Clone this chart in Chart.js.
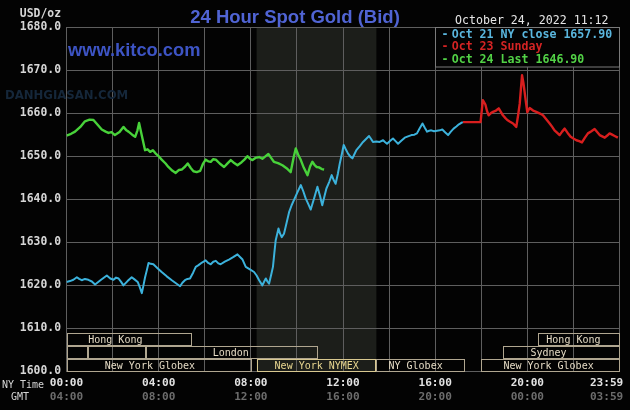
<!DOCTYPE html>
<html>
<head>
<meta charset="utf-8">
<title>24 Hour Spot Gold (Bid)</title>
<script src="https://cdn.jsdelivr.net/npm/chart.js@4.4.0/dist/chart.umd.min.js"></script>
<style>
html, body { margin: 0; padding: 0; background: #000; }
canvas { display: block; }
</style>
</head>
<body>
<canvas id="goldChart" width="630" height="410"></canvas>
<script>
// NY time in hours (0-24) and bid price
const tickHours = [0, 4, 8, 12, 16, 20, 23.44];
const nyTimeLabels = ['00:00', '04:00', '08:00', '12:00', '16:00', '20:00', '23:59'];
const gmtLabels = ['04:00', '08:00', '12:00', '16:00', '20:00', '00:00', '03:59'];

const oct21Hours = [0, 0.15, 0.3, 0.45, 0.55, 0.66, 0.8, 0.95, 1.1, 1.24, 1.5, 1.75, 1.9, 2.04, 2.15, 2.26, 2.37, 2.47, 2.65, 2.83, 2.95, 3.09, 3.18, 3.27, 3.34, 3.41, 3.49, 3.56, 3.66, 3.77, 3.95, 4.13, 4.35, 4.57, 4.75, 4.93, 5.03, 5.14, 5.25, 5.36, 5.5, 5.61, 5.73, 5.88, 6.04, 6.15, 6.26, 6.37, 6.48, 6.59, 6.69, 6.87, 7.05, 7.25, 7.42, 7.53, 7.64, 7.78, 7.96, 8.14, 8.25, 8.36, 8.5, 8.58, 8.65, 8.72, 8.79, 8.88, 8.96, 9.02, 9.08, 9.2, 9.27, 9.34, 9.44, 9.55, 9.66, 9.77, 9.87, 10.02, 10.17, 10.28, 10.38, 10.5, 10.6, 10.75, 10.89, 11.0, 11.1, 11.2, 11.28, 11.4, 11.51, 11.6, 11.68, 11.78, 11.86, 11.95, 12.03, 12.12, 12.22, 12.32, 12.41, 12.5, 12.58, 12.72, 12.87, 13.0, 13.13, 13.22, 13.3, 13.45, 13.59, 13.74, 13.82, 13.91, 14.04, 14.17, 14.28, 14.39, 14.53, 14.68, 14.82, 14.97, 15.1, 15.21, 15.33, 15.45, 15.55, 15.65, 15.74, 15.83, 15.95, 16.08, 16.2, 16.31, 16.44, 16.56, 16.68, 16.8, 16.92, 17.03, 17.12, 17.2];
const oct21Prices = [1620.8, 1621.0, 1621.3, 1621.9, 1621.5, 1621.2, 1621.5, 1621.3, 1620.9, 1620.2, 1621.3, 1622.3, 1621.6, 1621.3, 1621.8, 1621.6, 1620.8, 1620.0, 1621.0, 1621.9, 1621.4, 1620.8, 1619.6, 1618.2, 1620.0, 1621.9, 1623.6, 1625.2, 1625.0, 1624.9, 1624.0, 1623.1, 1622.1, 1621.2, 1620.5, 1619.8, 1620.6, 1621.2, 1621.5, 1621.6, 1623.0, 1624.3, 1624.7, 1625.3, 1625.8, 1625.2, 1624.9, 1625.5, 1625.7, 1625.1, 1624.9, 1625.5, 1626.0, 1626.6, 1627.2, 1626.6, 1626.0, 1624.3, 1623.7, 1623.1, 1622.3, 1621.2, 1620.0, 1620.9, 1621.6, 1620.9, 1620.4, 1622.4, 1624.3, 1627.5, 1630.5, 1633.2, 1632.0, 1631.2, 1632.0, 1634.5, 1637.0, 1638.6, 1639.8, 1641.6, 1643.3, 1641.8, 1640.2, 1638.8, 1637.6, 1640.3, 1642.9, 1640.8, 1638.6, 1640.8, 1642.5, 1644.0, 1645.6, 1644.4, 1643.6, 1646.0, 1648.3, 1650.5, 1652.6, 1651.6, 1650.6, 1649.9, 1649.5, 1650.5, 1651.4, 1652.3, 1653.3, 1654.0, 1654.7, 1654.0, 1653.3, 1653.4, 1653.3, 1653.7, 1653.3, 1652.9, 1653.5, 1654.1, 1653.5, 1652.9, 1653.6, 1654.3, 1654.6, 1654.9, 1655.0, 1655.3, 1656.5, 1657.6, 1656.6, 1655.7, 1655.9, 1656.0, 1655.8, 1655.9, 1656.0, 1656.2, 1655.5, 1654.9, 1655.7, 1656.4, 1656.9, 1657.4, 1657.7, 1657.9];

const oct23Hours = [17.2, 17.97, 18.07, 18.18, 18.25, 18.32, 18.42, 18.51, 18.64, 18.76, 18.85, 18.94, 19.04, 19.13, 19.25, 19.38, 19.45, 19.52, 19.6, 19.67, 19.72, 19.77, 19.83, 19.88, 19.94, 20.0, 20.1, 20.25, 20.39, 20.55, 20.68, 20.83, 20.97, 21.08, 21.18, 21.3, 21.4, 21.51, 21.62, 21.75, 21.88, 22.0, 22.13, 22.25, 22.37, 22.5, 22.63, 22.78, 22.92, 23.03, 23.14, 23.25, 23.36, 23.47, 23.57, 23.68, 23.79, 23.93];
const oct23Prices = [1657.9, 1657.9, 1663.0, 1662.0, 1660.5, 1659.5, 1660.0, 1660.3, 1660.6, 1661.1, 1660.3, 1659.5, 1658.9, 1658.4, 1658.0, 1657.6, 1657.2, 1656.8, 1659.5, 1662.2, 1665.5, 1668.8, 1667.0, 1665.0, 1662.5, 1660.2, 1661.2, 1660.6, 1660.3, 1659.9, 1659.5, 1658.5, 1657.6, 1656.8, 1656.0, 1655.4, 1654.9, 1655.7, 1656.4, 1655.4, 1654.5, 1654.1, 1653.7, 1653.5, 1653.2, 1654.3, 1655.3, 1655.8, 1656.3, 1655.6, 1654.9, 1654.6, 1654.3, 1654.8, 1655.3, 1655.0, 1654.7, 1654.3];

const oct24Hours = [0, 0.2, 0.37, 0.6, 0.8, 1.0, 1.17, 1.35, 1.53, 1.7, 1.82, 1.95, 2.1, 2.3, 2.47, 2.6, 2.69, 2.85, 2.98, 3.08, 3.15, 3.28, 3.41, 3.52, 3.63, 3.75, 3.87, 4.0, 4.13, 4.3, 4.42, 4.6, 4.74, 4.88, 5.0, 5.15, 5.26, 5.4, 5.51, 5.65, 5.8, 5.92, 6.04, 6.15, 6.26, 6.37, 6.48, 6.65, 6.84, 7.0, 7.13, 7.28, 7.42, 7.6, 7.72, 7.85, 7.96, 8.07, 8.2, 8.36, 8.5, 8.62, 8.76, 8.88, 9.0, 9.18, 9.37, 9.55, 9.73, 9.85, 9.95, 10.05, 10.17, 10.3, 10.46, 10.57, 10.67, 10.76, 10.85, 10.96, 11.08, 11.18];
const oct24Prices = [1654.8, 1655.2, 1655.7, 1656.8, 1658.1, 1658.5, 1658.4, 1657.3, 1656.2, 1655.7, 1655.4, 1655.6, 1654.9, 1655.6, 1656.8, 1656.0, 1655.7, 1655.0, 1654.5, 1656.0, 1657.7, 1654.5, 1651.4, 1651.6, 1651.0, 1651.4, 1650.6, 1650.0, 1649.2, 1648.3, 1647.5, 1646.6, 1646.1, 1646.8, 1646.9, 1647.6, 1648.3, 1647.2, 1646.5, 1646.3, 1646.6, 1648.2, 1649.2, 1648.8, 1648.7, 1649.3, 1649.2, 1648.3, 1647.5, 1648.4, 1649.1, 1648.4, 1647.9, 1648.6, 1649.2, 1650.0, 1649.4, 1649.1, 1649.6, 1649.8, 1649.4, 1649.9, 1650.5, 1649.6, 1648.7, 1648.4, 1647.9, 1647.2, 1646.3, 1649.5, 1651.8, 1650.4, 1649.1, 1647.3, 1645.6, 1647.6, 1648.7, 1648.0, 1647.5, 1647.4, 1647.0, 1646.9];

const legendLabels = ['Oct 21 NY close 1657.90', 'Oct 23 Sunday', 'Oct 24 Last 1646.90'];

// trading sessions shown at the bottom of the plot
const sessionNames = ['Hong Kong', 'Hong Kong', '', '', 'London', 'Sydney', 'New York Globex', 'New York NYMEX', 'NY Globex', 'New York Globex'];
const sessionStarts = [0, 20.46, 0, 0.94, 3.47, 18.93, 0, 8.25, 13.45, 18.0];
const sessionEnds = [5.45, 24, 0.94, 3.47, 10.92, 24, 8.03, 13.45, 17.3, 24];
const sessionRows = [0, 0, 1, 1, 1, 1, 2, 2, 2, 2];
const sessionLabelAt = [2.12, 22.0, 0, 0, 7.13, 20.92, 3.62, 10.86, 15.15, 20.92];
const rowTops = [1609, 1606, 1603];
const nymexStart = 8.25;
const nymexEnd = 13.45;

const mono = '"DejaVu Sans Mono", monospace';
const gridColor = '#5e5e5e';

function toPoints(hours, prices) {
    return hours.map((h, i) => ({ x: h, y: prices[i] }));
}

const kitcoDecor = {
    id: 'kitcoDecor',
    beforeDraw(chart) {
        const ctx = chart.ctx;
        const x = chart.scales.x;
        const area = chart.chartArea;
        ctx.save();
        ctx.fillStyle = '#030303';
        ctx.fillRect(0, 0, chart.width, chart.height);
        // NYMEX hours shading
        const x0 = x.getPixelForValue(nymexStart);
        const x1 = x.getPixelForValue(nymexEnd);
        ctx.fillStyle = '#1c1e1a';
        ctx.fillRect(x0, area.top, x1 - x0, area.bottom - area.top);
        ctx.restore();
    },
    beforeDatasetsDraw(chart) {
        const ctx = chart.ctx;
        const x = chart.scales.x;
        const y = chart.scales.y;
        ctx.save();
        ctx.lineWidth = 1;
        ctx.font = '10px ' + mono;
        ctx.textAlign = 'center';
        ctx.textBaseline = 'middle';
        sessionNames.forEach((name, i) => {
            const left = Math.round(x.getPixelForValue(sessionStarts[i])) + 0.5;
            const right = Math.round(x.getPixelForValue(sessionEnds[i])) - 0.5;
            const top = Math.round(y.getPixelForValue(rowTops[sessionRows[i]])) + 0.5;
            const bottom = Math.round(y.getPixelForValue(rowTops[sessionRows[i]] - 3)) - 0.5;
            const isNymex = name === 'New York NYMEX';
            ctx.strokeStyle = isNymex ? '#d8c890' : '#b0a690';
            ctx.strokeRect(left, top, right - left, bottom - top);
            if (name) {
                ctx.fillStyle = isNymex ? '#e8d690' : '#e4dac4';
                ctx.fillText(name, x.getPixelForValue(sessionLabelAt[i]), (top + bottom) / 2 + 1);
            }
        });
        // faint site watermark
        ctx.fillStyle = '#15273a';
        ctx.font = 'bold 13px "DejaVu Sans Condensed", sans-serif';
        ctx.textAlign = 'left';
        ctx.textBaseline = 'alphabetic';
        ctx.fillText('DANHGIASAN.COM', 5, 99);
        ctx.restore();
    },
    afterDraw(chart) {
        const ctx = chart.ctx;
        const area = chart.chartArea;
        ctx.save();
        ctx.textBaseline = 'alphabetic';

        ctx.fillStyle = '#5064d4';
        ctx.font = 'bold 18.5px "Liberation Sans", Arial, sans-serif';
        ctx.textAlign = 'center';
        ctx.fillText('24 Hour Spot Gold (Bid)', 295, 22.5);

        ctx.fillStyle = '#3d54c4';
        ctx.font = 'bold 18.3px "Liberation Sans", Arial, sans-serif';
        ctx.textAlign = 'left';
        ctx.fillText('www.kitco.com', 68, 55.5);

        ctx.fillStyle = '#e6e6e6';
        ctx.font = '11.6px ' + mono;
        ctx.fillText('October 24, 2022 11:12', 455, 24);

        ctx.fillStyle = '#d6d6d6';
        ctx.font = 'bold 11.4px ' + mono;
        ctx.textAlign = 'right';
        ctx.fillText('USD/oz', 61, 17);

        ctx.font = '10px ' + mono;
        ctx.textAlign = 'left';
        ctx.fillText('NY Time', 2, 387.5);
        ctx.fillText('GMT', 11, 400);

        // legend box in the top right corner
        const lx = 435.5;
        const ly = Math.round(area.top) + 0.5;
        const lw = Math.round(area.right) - 0.5 - lx;
        const lh = 39.5;
        ctx.fillStyle = '#030303';
        ctx.fillRect(lx, ly, lw, lh);
        ctx.strokeStyle = '#7a7a7a';
        ctx.lineWidth = 1;
        ctx.strokeRect(lx, ly, lw, lh);
        ctx.font = 'bold 11.6px ' + mono;
        chart.data.datasets.forEach((ds, i) => {
            const by = 37.7 + i * 12.5;
            ctx.fillStyle = ds.legendColor;
            ctx.fillText('-', 441.5, by);
            ctx.fillText(ds.label, 451.7, by);
        });
        ctx.restore();
    }
};

new Chart(document.getElementById('goldChart'), {
    type: 'line',
    data: {
        datasets: [
            {
                label: legendLabels[0],
                data: toPoints(oct21Hours, oct21Prices),
                borderColor: '#3cb2dc',
                legendColor: '#5ab6de',
                borderWidth: 2
            },
            {
                label: legendLabels[1],
                data: toPoints(oct23Hours, oct23Prices),
                borderColor: '#d81e1e',
                legendColor: '#d42424',
                borderWidth: 2.4
            },
            {
                label: legendLabels[2],
                data: toPoints(oct24Hours, oct24Prices),
                borderColor: '#48d23a',
                legendColor: '#52d246',
                borderWidth: 2.4
            }
        ]
    },
    options: {
        responsive: false,
        animation: false,
        devicePixelRatio: 1,
        elements: {
            point: { radius: 0 },
            line: { tension: 0, borderJoinStyle: 'round', fill: false }
        },
        layout: { padding: { top: 27, right: 10.5, bottom: 5.5, left: 0 } },
        plugins: {
            legend: { display: false },
            tooltip: { enabled: false }
        },
        scales: {
            x: {
                type: 'linear',
                position: 'bottom',
                min: 0,
                max: 24,
                weight: 0,
                ticks: { display: false, stepSize: 2 },
                grid: { color: gridColor, drawTicks: false },
                border: { color: gridColor },
                afterFit: s => { s.height = 0; }
            },
            nyTime: {
                type: 'linear',
                position: 'bottom',
                min: 0,
                max: 24,
                weight: 1,
                grid: { display: false, drawTicks: false },
                border: { display: false },
                afterBuildTicks: s => { s.ticks = tickHours.map(v => ({ value: v })); },
                ticks: {
                    autoSkip: false,
                    maxRotation: 0,
                    padding: 6,
                    color: '#e2e2e2',
                    font: { family: mono, size: 11.1, weight: 'bold', lineHeight: 1 },
                    callback: (v, i) => nyTimeLabels[i]
                },
                afterFit: s => { s.height = 19; }
            },
            gmt: {
                type: 'linear',
                position: 'bottom',
                min: 0,
                max: 24,
                weight: 2,
                grid: { display: false, drawTicks: false },
                border: { display: false },
                afterBuildTicks: s => { s.ticks = tickHours.map(v => ({ value: v })); },
                ticks: {
                    autoSkip: false,
                    maxRotation: 0,
                    padding: 0.6,
                    color: '#6c6c6c',
                    font: { family: mono, size: 11.1, weight: 'bold', lineHeight: 1 },
                    callback: (v, i) => gmtLabels[i]
                },
                afterFit: s => { s.height = 14; }
            },
            y: {
                min: 1600,
                max: 1680,
                ticks: {
                    stepSize: 10,
                    padding: 5.5,
                    color: '#d6d6d6',
                    font: { family: mono, size: 11.4, weight: 'bold' },
                    callback: v => v.toFixed(1)
                },
                grid: { color: gridColor, drawTicks: false },
                border: { color: gridColor },
                afterFit: s => { s.width = 66.5; }
            }
        }
    },
    plugins: [kitcoDecor]
});
</script>
</body>
</html>
